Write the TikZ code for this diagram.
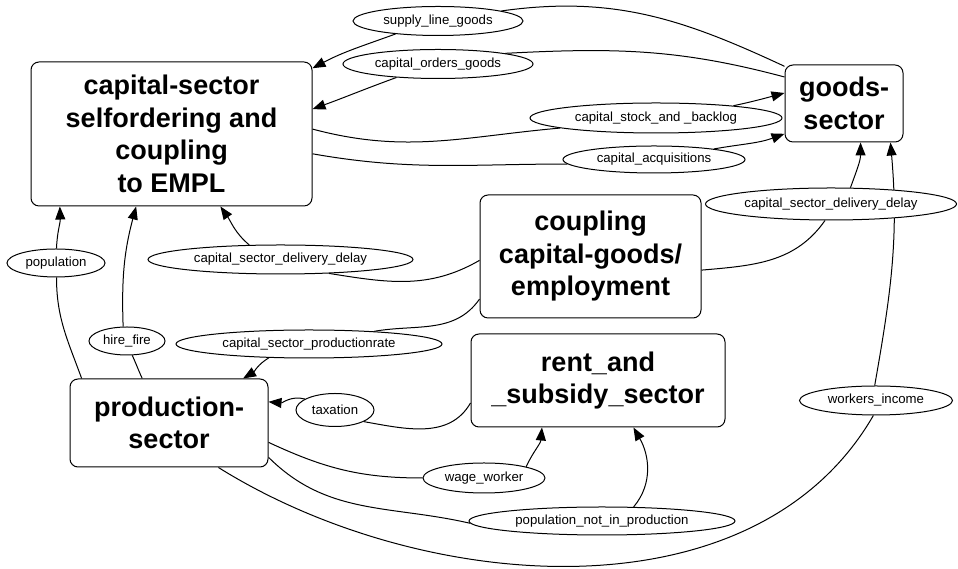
\documentclass[tikz,border=0pt]{standalone}
\usepackage{fontspec}
\setmainfont{Liberation Sans}
\usetikzlibrary{arrows.meta,shapes.geometric,backgrounds}
\tikzset{
  sector/.style={draw, rounded corners=8pt, line width=1pt, fill=white, align=center, inner sep=0pt, font=\fontsize{27}{32.5}\selectfont\bfseries},
  flow/.style={draw, ellipse, line width=1pt, fill=white, inner sep=0pt, font=\fontsize{13.2}{16}\selectfont},
  link/.style={line width=1pt},
  feed/.style={line width=1pt, -{Triangle[length=13pt, width=10pt]}},
}

\begin{document}
\begin{tikzpicture}[x=1pt, y=1pt]
  \useasboundingbox (0,0) rectangle (958,569);

  % Sectors
  \node[sector, minimum width=281pt, minimum height=144pt] (cap) at (171.5,435) {capital-sector\\selfordering and\\coupling\\to EMPL};
  \node[sector, minimum width=118pt, minimum height=77pt] (goods) at (844,465.5) {goods-\\sector};
  \node[sector, minimum width=221pt, minimum height=123pt] (coupling) at (590.5,312.5) {coupling\\capital-goods/\\employment};
  \node[sector, minimum width=254pt, minimum height=93pt] (rent) at (598,188.5) {rent\_and\\\_subsidy\_sector};
  \node[sector, minimum width=198pt, minimum height=88pt] (prod) at (169,146) {production-\\sector};

  % Flow labels
  \node[flow, minimum width=170pt, minimum height=29pt] (supply) at (438,548) {supply\_line\_goods};
  \node[flow, minimum width=190pt, minimum height=29pt] (orders) at (438,505) {capital\_orders\_goods};
  \node[flow, minimum width=252pt, minimum height=30pt] (stock) at (656,451) {capital\_stock\_and \_backlog};
  \node[flow, minimum width=182pt, minimum height=27pt] (acqui) at (654,409.5) {capital\_acquisitions};
  \node[flow, minimum width=251pt, minimum height=32pt] (delayR) at (831,365) {capital\_sector\_delivery\_delay};
  \node[flow, minimum width=265pt, minimum height=29pt] (delayL) at (280.5,309.5) {capital\_sector\_delivery\_delay};
  \node[flow, minimum width=98pt, minimum height=28pt] (popul) at (56,306) {population};
  \node[flow, minimum width=76pt, minimum height=28pt] (hire) at (127,228) {hire\_fire};
  \node[flow, minimum width=266pt, minimum height=28pt] (prate) at (309,225) {capital\_sector\_productionrate};
  \node[flow, minimum width=78pt, minimum height=33pt] (tax) at (335,159) {taxation};
  \node[flow, minimum width=122pt, minimum height=30pt] (wage) at (484,91) {wage\_worker};
  \node[flow, minimum width=266pt, minimum height=28pt] (notprod) at (602,48) {population\_not\_in\_production};
  \node[flow, minimum width=153pt, minimum height=29pt] (income) at (876,168.5) {workers\_income};

  \begin{scope}[on background layer]
    \fill[white] (0,0) rectangle (958,569);

    % goods-sector to capital-sector
    \draw[link] (goods.148) to[out=155, in=8] (supply.9);
    \draw[feed] (supply.197) to[out=200, in=28] (cap.25);
    \draw[link] (goods.156) to[out=165, in=3] (orders.9);
    \draw[feed] (orders.198) to[out=200, in=20] (cap.10);

    % capital-sector to goods-sector
    \draw[link] (cap.2) to[out=-15, in=185] (stock.186);
    \draw[feed] (stock.9) to[out=12, in=195] (goods.170);
    \draw[link] (cap.-8) to[out=-10, in=180] (acqui.183);
    \draw[feed] (acqui.10) to[out=10, in=200] (goods.207);

    % coupling
    \draw[link] (coupling.-7) to[out=5, in=235] (delayR.250);
    \draw[feed] (delayR.40) to[out=70, in=-90] (goods.-67);
    \draw[link] (coupling.182) to[out=210, in=-9] (delayL.-16);
    \draw[feed] (delayL.155) to[out=140, in=-55] (cap.-56);
    \draw[link] (coupling.201) to[out=235, in=10] (prate.11);
    \draw[feed] (prate.199) to[out=211, in=31] (prod.31);

    % production-sector
    \draw[link] (prod.153) to[out=110, in=-90] (popul.-88);
    \draw[feed] (popul.88) to[out=88, in=-88] (cap.-147);
    \draw[link] (prod.121) to[out=115, in=-65] (hire.-70);
    \draw[feed] (hire.105) to[out=92, in=-105] (cap.-116);
    \draw[link] (prod.-42) to[out=-32, in=240, looseness=0.93] (income.-100);
    \draw[feed] (income.95) to[out=80, in=-85] (goods.-40);
    \draw[link] (prod.-11) to[out=-25, in=180] (wage.180);
    \draw[feed] (wage.15) to[out=65, in=-95] (rent.-140);
    \draw[link] (prod.-19) to[out=-45, in=167] (notprod.181);
    \draw[feed] (notprod.24) to[out=50, in=-60] (rent.-53);

    % rent and subsidy
    \draw[link] (rent.190) to[out=240, in=-10] (tax.-22);
    \draw[feed] (tax.160) to[out=165, in=-5] (prod.12);
  \end{scope}
\end{tikzpicture}
\end{document}
